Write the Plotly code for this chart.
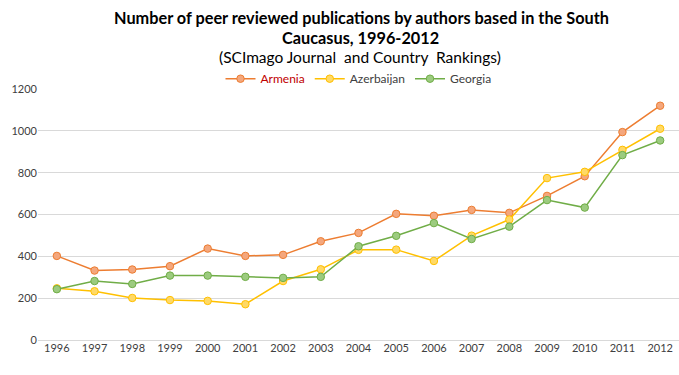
import plotly.graph_objects as go

years = [str(y) for y in range(1996, 2013)]
armenia = [402, 332, 337, 353, 437, 402, 407, 472, 512, 603, 594, 622, 608, 689, 783, 994, 1120]
azerbaijan = [247, 233, 201, 191, 187, 171, 282, 338, 431, 432, 378, 499, 576, 774, 804, 909, 1010]
georgia = [243, 282, 268, 308, 308, 302, 297, 302, 448, 498, 559, 483, 542, 669, 633, 884, 954]
y_ticks = [0, 200, 400, 600, 800, 1000, 1200]

title_line1 = "Number of peer reviewed publications by authors based in the South"
title_line2 = "Caucasus, 1996-2012"
subtitle = "(SCImago Journal  and Country  Rankings)"

FONT = "Lato"
series = [
    ("<span style='color:#C00000'>Armenia</span>", armenia, "#ED7D31", "#F4A77D"),
    ("Azerbaijan", azerbaijan, "#FFC000", "#FFD966"),
    ("Georgia", georgia, "#70AD47", "#9CCB7F"),
]

fig = go.Figure()
for name, vals, col, fill in series:
    fig.add_trace(go.Scatter(
        x=years, y=vals, name=name, mode="lines+markers",
        line=dict(color=col, width=1.5),
        marker=dict(size=7.5, color=fill, line=dict(color=col, width=1)),
    ))

PH = 250.7
def py(px):
    return (340 - px) / PH

fig.add_annotation(text="<b>" + title_line1 + "</b>", xref="paper", yref="paper",
                   x=0.504, y=py(18), xanchor="center", yanchor="middle", showarrow=False,
                   font=dict(family=FONT, size=16.3, color="#000000"))
fig.add_annotation(text="<b>" + title_line2 + "</b>", xref="paper", yref="paper",
                   x=0.503, y=py(37.5), xanchor="center", yanchor="middle", showarrow=False,
                   font=dict(family=FONT, size=16.3, color="#000000"))
fig.add_annotation(text=subtitle, xref="paper", yref="paper",
                   x=0.503, y=py(57), xanchor="center", yanchor="middle", showarrow=False,
                   font=dict(family=FONT, size=15.5, color="#000000"))

fig.update_layout(
    width=679, height=375,
    paper_bgcolor="white", plot_bgcolor="white",
    margin=dict(l=38, r=0, t=89, b=35, autoexpand=False),
    font=dict(family=FONT, color="#404040", size=11),
    legend=dict(
        orientation="h", x=0.5, xanchor="center", y=py(79), yanchor="middle",
        font=dict(family=FONT, size=12, color="#404040"),
        bgcolor="rgba(0,0,0,0)",
    ),
    showlegend=True,
)
fig.update_xaxes(
    type="category", range=[-0.5, 16.5], showgrid=False, showline=False,
    ticks="", tickfont=dict(size=11, color="#404040"),
)
fig.update_yaxes(
    range=[0, 1200], tickvals=y_ticks, showgrid=True, gridcolor="#D9D9D9",
    gridwidth=1, zeroline=True, zerolinecolor="#D9D9D9", zerolinewidth=1,
    showline=False, ticks="", tickfont=dict(size=11, color="#404040"),
)

fig.write_html("out.html", config={"displayModeBar": False},
               post_script="document.body.style.margin='0';")
